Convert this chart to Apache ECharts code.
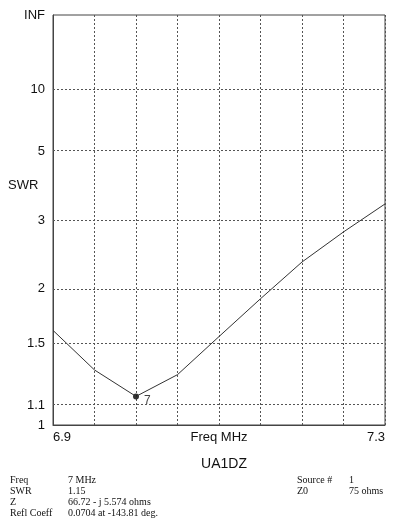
<!DOCTYPE html>
<html><head><meta charset="utf-8">
<script src="https://cdn.jsdelivr.net/npm/echarts@6/dist/echarts.min.js"></script>
<style>html,body{margin:0;padding:0;background:#fff}#c{width:399px;height:519px}</style>
</head><body><div id="c"></div>
<script>
var freqs = [6.9, 6.95, 7.0, 7.05, 7.1, 7.15, 7.2, 7.25, 7.3];
var swr = [1.60, 1.31, 1.15, 1.28, 1.55, 1.89, 2.32, 2.78, 3.34];
var yTickSWR = [1, 1.1, 1.5, 2, 3, 5, 10, Infinity];
var yTickLabels = ['1', '1.1', '1.5', '2', '3', '5', '10', 'INF'];
var xTickLabels = ['6.9', '7.3'];
var markerFreq = 7.0, markerSWR = 1.15, markerLabel = '7';
var infoLeft = [['Freq', '7 MHz'], ['SWR', '1.15'], ['Z', '66.72 - j 5.574 ohms'], ['Refl Coeff', '0.0704 at -143.81 deg.']];
var infoRight = [['Source #', '1'], ['Z0', '75 ohms']];

function rho(s) { return s === Infinity ? 1 : (s - 1) / (s + 1); }
var yTickRho = yTickSWR.map(rho);

var chart = echarts.init(document.getElementById('c'), null, {renderer: 'canvas'});
var font = 'Liberation Sans, Arial, sans-serif';
var serif = 'Liberation Serif, Times New Roman, serif';
var graphics = [
  {type: 'text', left: 8, top: 179, style: {text: 'SWR', font: '13px ' + font, fill: '#111'}},
  {type: 'text', x: 219, y: 437, style: {text: 'Freq MHz', font: '13px ' + font, fill: '#111', align: 'center', verticalAlign: 'middle'}}
];
infoLeft.forEach(function (r, i) {
  graphics.push({type: 'text', left: 10, top: 475 + i * 11, style: {text: r[0], font: '10px ' + serif, fill: '#111'}});
  graphics.push({type: 'text', left: 68, top: 475 + i * 11, style: {text: r[1], font: '10px ' + serif, fill: '#111'}});
});
infoRight.forEach(function (r, i) {
  graphics.push({type: 'text', left: 297, top: 475 + i * 11, style: {text: r[0], font: '10px ' + serif, fill: '#111'}});
  graphics.push({type: 'text', left: 349, top: 475 + i * 11, style: {text: r[1], font: '10px ' + serif, fill: '#111'}});
});

chart.setOption({
  animation: false,
  backgroundColor: '#fff',
  title: {text: 'UA1DZ', left: 219, top: 452, textAlign: 'center',
    textStyle: {fontFamily: font, fontSize: 14, fontWeight: 'normal', color: '#111'}},
  graphic: graphics,
  grid: {left: 53, top: 15, right: 14, bottom: 94, show: true, borderColor: '#444', borderWidth: 1},
  xAxis: {
    type: 'value', min: 6.9, max: 7.3, interval: 0.05,
    axisLine: {show: true, lineStyle: {color: '#444'}},
    axisTick: {show: false},
    axisLabel: {fontFamily: font, fontSize: 13, color: '#111', margin: 6, alignMinLabel: 'left', alignMaxLabel: 'right',
      formatter: function (v) {
        if (Math.abs(v - freqs[0]) < 1e-6) return xTickLabels[0];
        if (Math.abs(v - freqs[freqs.length - 1]) < 1e-6) return xTickLabels[1];
        return '';
      }},
    splitLine: {show: true, lineStyle: {color: '#555', type: [2, 2], width: 1}}
  },
  yAxis: {
    type: 'value', min: 0, max: 1,
    axisLine: {show: true, lineStyle: {color: '#444'}},
    axisTick: {show: false},
    splitLine: {show: false},
    axisLabel: {fontFamily: font, fontSize: 13, color: '#111', margin: 8,
      customValues: yTickRho,
      formatter: function (v) {
        var best = 0;
        for (var i = 0; i < yTickRho.length; i++) if (Math.abs(yTickRho[i] - v) < Math.abs(yTickRho[best] - v)) best = i;
        return yTickLabels[best];
      }}
  },
  series: [{
    type: 'line', silent: true, symbol: 'none',
    data: freqs.map(function (f, i) { return [f, rho(swr[i])]; }),
    lineStyle: {color: '#333', width: 1},
    markLine: {silent: true, symbol: 'none', label: {show: false},
      lineStyle: {color: '#555', type: [2, 2], width: 1},
      data: yTickRho.slice(1, -1).map(function (r) { return {yAxis: r}; })}
  }, {
    type: 'scatter', silent: true, symbol: 'circle', symbolSize: 6,
    itemStyle: {color: '#000'},
    data: [[markerFreq, rho(markerSWR)]],
    label: {show: true, formatter: markerLabel, position: 'right', offset: [0, 4],
      fontFamily: font, fontSize: 12, color: '#111'}
  }]
});
</script></body></html>
